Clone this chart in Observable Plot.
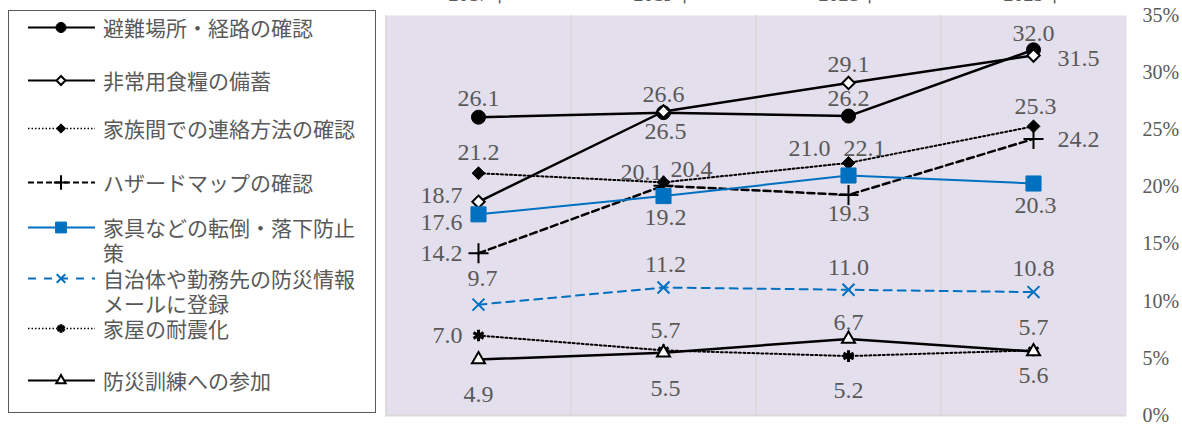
<!DOCTYPE html>
<html>
<head>
<meta charset="utf-8">
<script src="https://cdn.jsdelivr.net/npm/d3@7"></script>
<script src="https://cdn.jsdelivr.net/npm/@observablehq/plot@0.6"></script>
<style>
  body { margin: 0; background: #fff; }
  #wrap { position: relative; width: 1182px; height: 425px; overflow: hidden; }
  #chart { position: absolute; left: 0; top: 0; }
  #legend { position: absolute; left: 8px; top: 10px; width: 368px; height: 403px; border: 1.5px solid #595959; box-sizing: border-box; background: #fff; }
  .item { position: absolute; left: 0; width: 380px; height: 26px; }
  .item svg { position: absolute; left: 0; top: 0; overflow: visible; }
  .item .lbl { position: absolute; left: 103px; top: 0; width: 258px; font-family: "Noto Sans CJK JP", sans-serif; font-size: 21px; line-height: 25px; color: #595959; }
  #chart text.lab { letter-spacing: 1px; }
</style>
</head>
<body>
<div id="wrap"><div id="chart"></div></div>
<script>
// ---- data ----
const categories = ["2017年", "2019年", "2021年", "2023年"];
const seriesNames = [
  "避難場所・経路の確認",
  "非常用食糧の備蓄",
  "家族間での連絡方法の確認",
  "ハザードマップの確認",
  "家具などの転倒・落下防止策",
  "自治体や勤務先の防災情報メールに登録",
  "家屋の耐震化",
  "防災訓練への参加"
];
const evacuation = [26.1, 26.5, 26.2, 32.0];
const foodStock  = [18.7, 26.6, 29.1, 31.5];
const familyContact = [21.2, 20.4, 22.1, 25.3];
const hazardMap  = [14.2, 20.1, 19.3, 24.2];
const furniture  = [17.6, 19.2, 21.0, 20.3];
const alertMail  = [9.7, 11.2, 11.0, 10.8];
const quakeProof = [7.0, 5.7, 5.2, 5.7];
const drill      = [4.9, 5.5, 6.7, 5.6];
const yTicks = [0, 5, 10, 15, 20, 25, 30, 35];

const seriesValues = [evacuation, foodStock, familyContact, hazardMap, furniture, alertMail, quakeProof, drill];

// ---- styles ----
const BLUE = "#0070c0";
const seriesStyle = [
  {stroke: "#000", sw: 2.5, dash: null,    symbol: "circle",    fill: "#000", mstroke: "#000", msw: 1,   r: 7},
  {stroke: "#000", sw: 2.5, dash: null,    symbol: "diamond2",  fill: "#fff", mstroke: "#000", msw: 2,   r: 5.6},
  {stroke: "#000", sw: 2,   dash: "2,2.5", symbol: "diamond2",  fill: "#000", mstroke: "#000", msw: 1,   r: 5.8},
  {stroke: "#000", sw: 2.5, dash: "7,4",   symbol: "plus",      fill: "none", mstroke: "#000", msw: 2,   r: 6.5},
  {stroke: BLUE,   sw: 2,   dash: null,    symbol: "square",    fill: BLUE,   mstroke: BLUE,   msw: 1,   r: 8.5},
  {stroke: BLUE,   sw: 2,   dash: "8,6",   symbol: "times",     fill: "none", mstroke: BLUE,   msw: 2,   r: 5.5},
  {stroke: "#000", sw: 2,   dash: "2,2.5", symbol: "asterisk",  fill: "none", mstroke: "#000", msw: 3,   r: 5.5},
  {stroke: "#000", sw: 2.5, dash: null,    symbol: "triangle2", fill: "#fff", mstroke: "#000", msw: 2,   r: 6.2}
];
// label placement per point: [dx, dy, anchor]
const labelOffsets = [
  [[0,-19,"middle"],[2,19,"middle"],[0,-18,"middle"],[0,-16,"middle"]],
  [[-16,-6,"end"],[0,-17,"middle"],[0,-19,"middle"],[24,3,"start"]],
  [[0,-21,"middle"],[7,-13,"start"],[-5,-15,"start"],[2,-20,"middle"]],
  [[-16,0,"end"],[-1,-13,"end"],[0,18,"middle"],[24,0,"start"]],
  [[-16,8,"end"],[2,21,"middle"],[-18,-27,"end"],[2,22,"middle"]],
  [[4,-26,"middle"],[2,-23,"middle"],[0,-22,"middle"],[0,-24,"middle"]],
  [[-16,0,"end"],[2,-20,"middle"],[0,34,"middle"],[0,-23,"middle"]],
  [[0,35,"middle"],[2,36,"middle"],[0,-17,"middle"],[0,24,"middle"]]
];

// ---- tidy table ----
const rows = [];
seriesNames.forEach((s, i) => categories.forEach((c, j) => rows.push({series: s, si: i, cat: c, ci: j, value: seriesValues[i][j]})));

const W = 1182, H = 425, ML = 385, MR = 56, MT = 15, MB = 10;
const step = (W - ML - MR) / categories.length;

const marks = [
  Plot.frame({fill: "#e4dfec", stroke: "none"}),
  Plot.ruleX(categories, {x: d => d, dx: -step / 2, stroke: "#d9d9d9", strokeWidth: 1.5}),
  Plot.ruleY([0], {y: d => d, stroke: "#d9d9d9", strokeWidth: 2})
];
seriesNames.forEach((s, i) => {
  const st = seriesStyle[i];
  const data = rows.filter(d => d.si === i);
  marks.push(Plot.line(data, {x: "cat", y: "value", stroke: st.stroke, strokeWidth: st.sw, strokeDasharray: st.dash || undefined}));
  marks.push(Plot.dot(data, {x: "cat", y: "value", symbol: () => st.symbol, r: st.r, fill: st.fill, stroke: st.mstroke, strokeWidth: st.msw}));
});
rows.forEach(d => {
  const [dx, dy, anchor] = labelOffsets[d.si][d.ci];
  marks.push(Plot.text([d], {x: "cat", y: "value", text: v => v.value.toFixed(1), dx, dy, textAnchor: anchor, fill: "#595959", fontSize: 24, className: "lab"}));
});

const chart = Plot.plot({
  width: W, height: H,
  marginLeft: ML, marginRight: MR, marginTop: MT, marginBottom: MB,
  style: {background: "transparent", fontFamily: "'Liberation Serif', serif", fontSize: "20px", color: "#595959", overflow: "visible"},
  x: {type: "point", domain: categories, padding: 0.5, axis: "top", label: null, tickSize: 0, tickPadding: 15},
  y: {domain: [0, 35], axis: "right", ticks: yTicks, tickFormat: d => d + "%", tickSize: 0, tickPadding: 16, label: null},
  symbol: {type: "identity"},
  marks
});
chart.querySelectorAll("text").forEach(t => { if (!t.closest("g[aria-label^='text']") && t.parentNode.classList && !t.parentNode.classList.contains("lab")) {} });
document.getElementById("chart").appendChild(chart);

// ---- legend ----
const wrap = document.getElementById("wrap");
const box = document.createElement("div");
box.id = "legend";
wrap.appendChild(box);
const legendY = [27, 80, 128, 182, 227, 278, 328, 380];
const symMap = {circle: d3.symbolCircle, diamond2: d3.symbolDiamond2, plus: d3.symbolPlus, square: d3.symbolSquare, times: d3.symbolTimes, asterisk: d3.symbolAsterisk, triangle2: d3.symbolTriangle2};
const legendDash = [null, null, "1.5,2", "6,3", null, "8,8", "1.5,2", null];
const legendSw = [2, 2, 1.5, 2, 2, 2, 1.5, 2];
seriesNames.forEach((s, i) => {
  const st = seriesStyle[i];
  const item = document.createElement("div");
  item.className = "item";
  item.style.top = (legendY[i] - 12.5) + "px";
  const svg = d3.create("svg").attr("width", 100).attr("height", 25);
  svg.append("line").attr("x1", 28).attr("x2", 95).attr("y1", 12.5).attr("y2", 12.5)
    .attr("stroke", st.stroke).attr("stroke-width", legendSw[i])
    .attr("stroke-dasharray", legendDash[i]);
  const rr = st.r * 0.72;
  svg.append("path").attr("transform", "translate(61,12.5)")
    .attr("d", d3.symbol(symMap[st.symbol], Math.PI * rr * rr)())
    .attr("fill", st.fill).attr("stroke", st.mstroke).attr("stroke-width", st.msw);
  item.appendChild(svg.node());
  const lbl = document.createElement("div");
  lbl.className = "lbl";
  lbl.textContent = s;
  item.appendChild(lbl);
  wrap.appendChild(item);
});
</script>
</body>
</html>
